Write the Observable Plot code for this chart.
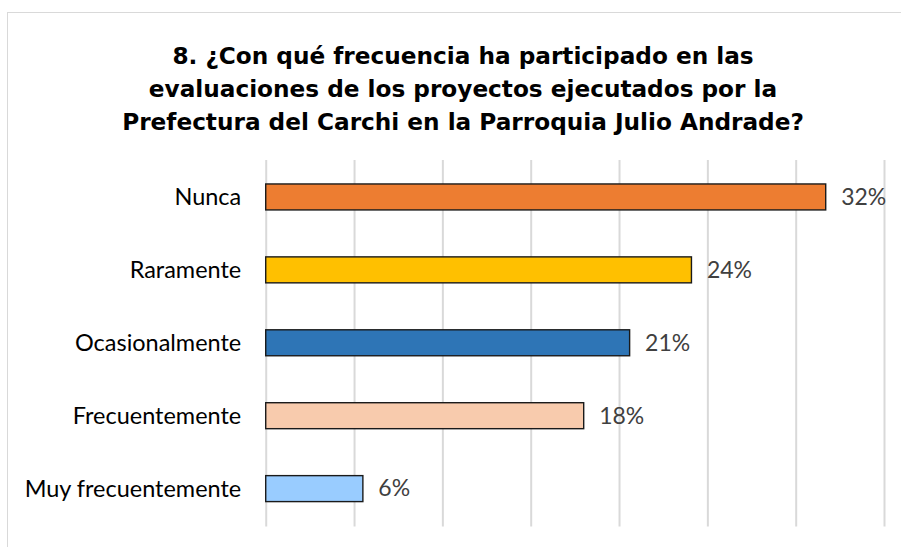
<!DOCTYPE html>
<html>
<head>
<meta charset="utf-8">
<script src="https://cdn.jsdelivr.net/npm/d3@7"></script>
<script src="https://cdn.jsdelivr.net/npm/@observablehq/plot@0.6"></script>
<style>
  html, body { margin: 0; padding: 0; background: #fff; width: 901px; height: 547px; overflow: hidden; }
  #frame { position: absolute; left: 7px; top: 12px; width: 894px; height: 535px;
           border-left: 1px solid #d9d9d9; border-top: 1px solid #d9d9d9; box-sizing: border-box; }
  #title { position: absolute; left: 0; top: 0; width: 910px; text-align: center;
           font-family: "DejaVu Sans", sans-serif; font-weight: bold; font-size: 23.2px;
           line-height: 33px; color: #000; padding-top: 26px; }
  #chart { position: absolute; left: 0; top: 137px; }
</style>
</head>
<body>
<div id="frame">
  <div id="title">8. ¿Con qué frecuencia ha participado en las<br>evaluaciones de los proyectos ejecutados por la<br>Prefectura del Carchi en la Parroquia Julio Andrade?</div>
  <div id="chart"></div>
</div>
<script>
const categories = ["Nunca", "Raramente", "Ocasionalmente", "Frecuentemente", "Muy frecuentemente"];
const values = [31.7, 24.1, 20.6, 18.0, 5.5];
const valueLabels = ["32%", "24%", "21%", "18%", "6%"];
const colors = ["#ED7D31", "#FFC000", "#2E75B6", "#F8CBAD", "#99CCFF"];
const gridTicks = [0, 5, 10, 15, 20, 25, 30, 35];

const data = categories.map((c, i) => ({cat: c, value: values[i], label: valueLabels[i], color: colors[i]}));

const chart = Plot.plot({
  width: 894,
  height: 398,
  marginLeft: 258,
  marginRight: 17,
  marginTop: 10,
  marginBottom: 21,
  style: {fontFamily: "Lato, sans-serif", background: "white"},
  x: {domain: [0, 35], axis: null},
  y: {domain: categories, paddingInner: 0.637, paddingOuter: 0.3185, axis: null},
  marks: [
    Plot.ruleX(gridTicks, {x: d => d, stroke: "#d9d9d9", strokeWidth: 2}),
    Plot.barX(data, {x: "value", y: "cat", fill: "color", stroke: "#1a1a1a", strokeWidth: 1.4}),
    Plot.text(data, {x: "value", y: "cat", text: "label", textAnchor: "start", dx: 15,
                     fill: "#404040", fontSize: 23}),
    Plot.axisY({tickSize: 0, tickPadding: 25, fontSize: 23.5, color: "#000", textAnchor: "end", label: null})
  ]
});
document.getElementById("chart").appendChild(chart);
</script>
</body>
</html>
